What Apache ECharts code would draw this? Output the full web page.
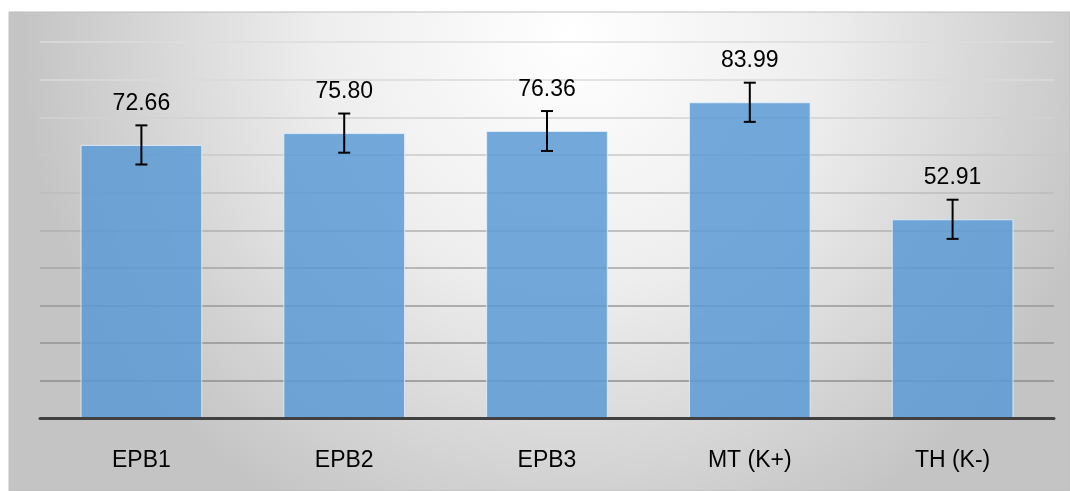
<!DOCTYPE html>
<html>
<head>
<meta charset="utf-8">
<script src="https://cdn.jsdelivr.net/npm/echarts@6/dist/echarts.min.js"></script>
<style>
html,body{margin:0;padding:0;background:#fff;}
#chart{width:1070px;height:491px;}
</style>
</head>
<body>
<div id="chart"></div>
<script>
var categories = ['EPB1', 'EPB2', 'EPB3', 'MT (K+)', 'TH (K-)'];
var means = [72.66, 75.80, 76.36, 83.99, 52.91];
var errors = [5.2, 5.2, 5.3, 5.2, 5.2];

var chart = echarts.init(document.getElementById('chart'));
var errorData = means.map(function (m, i) { return [i, m - errors[i], m + errors[i]]; });

var option = {
  animation: false,
  graphic: [{
    type: 'rect', z: -10, silent: true,
    shape: { x: 9, y: 12, width: 1061, height: 479 },
    style: {
      fill: new echarts.graphic.RadialGradient(0.53, 0.05, 1.15, [
        { offset: 0, color: '#ffffff' },
        { offset: 0.45, color: '#eeeeee' },
        { offset: 1, color: '#c4c4c4' }
      ]),
      stroke: '#bdbdbd', lineWidth: 1
    }
  }],
  grid: { left: 40, right: 16, top: 42, bottom: 72.5, containLabel: false },
  xAxis: {
    type: 'category',
    data: categories,
    axisLine: { show: true, lineStyle: { color: '#404040', width: 3 } },
    axisTick: { show: false },
    axisLabel: { color: '#000', fontSize: 23, fontFamily: 'Liberation Sans, Arial, sans-serif', margin: 31 },
    z: 5
  },
  yAxis: {
    type: 'value',
    min: 0, max: 100, interval: 10,
    axisLine: { show: false },
    axisTick: { show: false },
    axisLabel: { show: false },
    splitLine: {
      show: true,
      lineStyle: {
        width: 1.5,
        color: ['#404040', '#8e8e8e', '#939393', '#999999', '#a4a4a4', '#b0b0b0', '#bdbdbd', '#c8c8c8', '#d2d2d2', '#dadada', '#dcdcdc']
      }
    }
  },
  series: [{
    type: 'bar',
    data: means,
    barCategoryGap: '40%',
    itemStyle: { color: 'rgba(91,155,213,0.85)', borderColor: 'rgba(230,240,250,0.8)', borderWidth: 1 },
    label: {
      show: true, position: 'top', distance: 30,
      color: '#000', fontSize: 23, fontFamily: 'Liberation Sans, Arial, sans-serif',
      formatter: function (p) { return p.value.toFixed(2); }
    },
    z: 2
  }, {
    type: 'custom',
    data: errorData,
    z: 10,
    renderItem: function (params, api) {
      var x = api.value(0);
      var lo = api.coord([x, api.value(1)]);
      var hi = api.coord([x, api.value(2)]);
      var hw = 6;
      var st = { stroke: '#000', lineWidth: 2 };
      return {
        type: 'group',
        children: [
          { type: 'line', shape: { x1: hi[0], y1: hi[1], x2: lo[0], y2: lo[1] }, style: st },
          { type: 'line', shape: { x1: hi[0] - hw, y1: hi[1], x2: hi[0] + hw, y2: hi[1] }, style: st },
          { type: 'line', shape: { x1: lo[0] - hw, y1: lo[1], x2: lo[0] + hw, y2: lo[1] }, style: st }
        ]
      };
    }
  }]
};
chart.setOption(option);
</script>
</body>
</html>
